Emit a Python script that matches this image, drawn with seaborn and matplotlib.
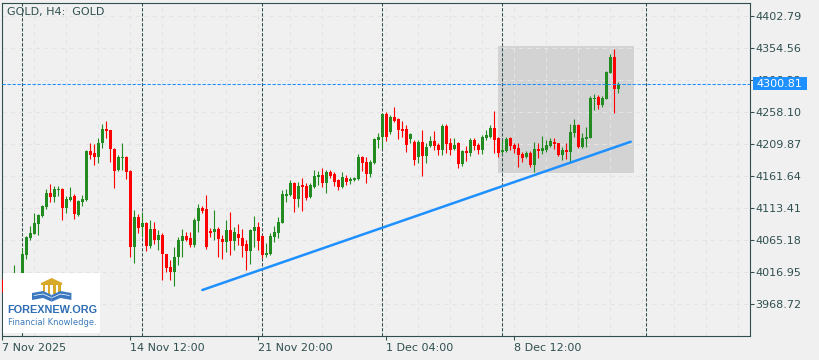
import numpy as np
import pandas as pd
import matplotlib
matplotlib.use("Agg")
import matplotlib.pyplot as plt
import matplotlib.transforms as mtransforms
from matplotlib.patches import Rectangle, Polygon
import seaborn as sns

# ---------------- data ----------------
opens = [
    4003.4, 3992.8, 3986.8, 4000.4, 4010.9, 4013.9, 4042.6, 4068.2, 4074.2, 4089.3,
    4101.3, 4114.9, 4136.0, 4130.0, 4141.3, 4142.0, 4113.4, 4125.5, 4131.5, 4102.9,
    4122.4, 4125.5, 4199.3, 4196.3, 4190.3, 4211.4, 4232.5, 4231.0, 4202.3, 4170.7,
    4189.5, 4190.3, 4169.2, 4054.6, 4099.8, 4084.8, 4090.8, 4056.1, 4081.8, 4065.2,
    4072.7, 4044.1, 4024.5, 4016.9, 4039.6, 4063.7, 4071.2, 4068.2, 4057.6, 4093.8,
    4113.4, 4111.9, 4078.7, 4077.2, 4081.8, 4066.7, 4062.2, 4080.2, 4063.7, 4074.2,
    4068.2, 4059.1, 4048.6, 4078.7, 4084.8, 4071.2, 4042.6, 4044.1, 4069.7, 4075.7,
    4090.8, 4131.5, 4133.0, 4151.1, 4127.0, 4148.1, 4146.6, 4130.0, 4145.1, 4160.1,
    4163.1, 4151.1, 4167.7, 4164.6, 4155.6, 4145.1, 4158.6, 4154.1, 4155.6, 4157.1,
    4190.3, 4182.7, 4164.6, 4181.2, 4215.9, 4220.4, 4255.1, 4228.0, 4250.6, 4247.5,
    4232.5, 4232.5, 4217.4, 4212.9, 4190.3, 4212.9, 4191.8, 4206.9, 4214.4, 4208.4,
    4200.8, 4237.0, 4211.4, 4202.3, 4211.4, 4179.7, 4199.3, 4196.3, 4215.9, 4208.4,
    4200.8, 4218.9, 4220.4, 4234.0, 4218.9, 4197.8, 4199.3, 4218.9, 4208.4, 4203.8,
    4194.8, 4190.3, 4196.3, 4178.2, 4202.3, 4199.3, 4200.8, 4206.9, 4212.9, 4211.4,
    4193.3, 4200.8, 4197.8, 4226.4, 4238.5, 4205.3, 4217.4, 4218.9, 4277.7, 4280.7,
    4268.6, 4277.7, 4316.9, 4341.0, 4292.8]

highs = [
    4006.4, 3998.9, 4004.9, 4027.5, 4014.7, 4053.1, 4071.2, 4086.3, 4105.9, 4104.4,
    4117.9, 4142.0, 4149.6, 4146.6, 4146.6, 4143.5, 4131.5, 4145.1, 4134.5, 4125.5,
    4133.0, 4200.8, 4211.4, 4209.9, 4218.9, 4240.0, 4244.5, 4231.0, 4203.8, 4193.3,
    4211.4, 4191.8, 4170.7, 4110.4, 4104.4, 4107.4, 4092.3, 4095.3, 4092.3, 4080.2,
    4075.7, 4044.1, 4035.0, 4054.6, 4069.7, 4081.8, 4077.2, 4077.2, 4098.3, 4119.4,
    4116.4, 4133.0, 4083.3, 4110.4, 4084.8, 4072.7, 4095.3, 4107.4, 4084.8, 4089.3,
    4081.8, 4065.2, 4081.8, 4101.3, 4092.3, 4072.7, 4060.7, 4075.7, 4086.3, 4099.8,
    4140.5, 4142.0, 4155.6, 4152.6, 4152.6, 4158.6, 4151.1, 4151.1, 4170.7, 4169.2,
    4173.7, 4170.7, 4170.7, 4167.7, 4157.1, 4167.7, 4163.1, 4160.1, 4160.1, 4194.8,
    4191.8, 4190.3, 4185.8, 4218.9, 4226.4, 4256.6, 4258.1, 4253.6, 4265.6, 4249.1,
    4244.5, 4238.5, 4226.4, 4215.9, 4215.9, 4231.0, 4211.4, 4221.9, 4229.5, 4211.4,
    4240.0, 4240.0, 4218.9, 4218.9, 4212.9, 4200.8, 4206.9, 4218.9, 4218.9, 4211.4,
    4223.4, 4231.0, 4238.5, 4259.6, 4220.4, 4215.9, 4220.4, 4220.4, 4211.4, 4211.4,
    4197.8, 4199.3, 4199.3, 4212.9, 4211.4, 4221.9, 4215.9, 4218.9, 4218.9, 4211.4,
    4205.3, 4211.4, 4240.0, 4247.5, 4240.0, 4226.4, 4235.5, 4282.2, 4285.2, 4283.7,
    4282.2, 4319.9, 4345.5, 4353.0, 4303.3]

lows = [
    3986.8, 3980.8, 3982.3, 3994.3, 4004.9, 4010.9, 4036.5, 4065.2, 4074.2, 4072.7,
    4099.8, 4111.9, 4122.4, 4122.4, 4131.5, 4095.3, 4105.9, 4124.0, 4096.8, 4101.3,
    4116.4, 4124.0, 4187.3, 4178.2, 4181.2, 4203.8, 4218.9, 4182.7, 4143.5, 4169.2,
    4170.7, 4157.1, 4039.6, 4030.5, 4075.7, 4069.7, 4048.6, 4053.1, 4059.1, 4050.1,
    4004.9, 4016.9, 4004.9, 3995.8, 4027.5, 4039.6, 4063.7, 4054.6, 4054.6, 4077.2,
    4105.9, 4052.0, 4069.7, 4065.2, 4039.6, 4036.5, 4047.1, 4042.6, 4050.1, 4057.6,
    4039.6, 4020.0, 4029.0, 4054.6, 4050.1, 4038.0, 4039.6, 4042.6, 4062.2, 4068.2,
    4090.8, 4122.4, 4131.5, 4107.4, 4114.9, 4108.9, 4125.5, 4128.5, 4143.5, 4148.1,
    4145.1, 4136.0, 4158.6, 4146.6, 4140.5, 4143.5, 4148.1, 4149.6, 4154.1, 4155.6,
    4169.2, 4151.1, 4160.1, 4179.7, 4203.8, 4203.8, 4214.4, 4224.9, 4243.0, 4217.4,
    4220.4, 4197.8, 4211.4, 4178.2, 4181.2, 4161.6, 4181.2, 4205.3, 4200.8, 4193.3,
    4193.3, 4196.3, 4193.3, 4200.8, 4173.7, 4176.7, 4184.2, 4191.8, 4200.8, 4194.8,
    4194.8, 4215.9, 4218.9, 4196.3, 4190.3, 4194.8, 4197.8, 4200.8, 4196.3, 4175.2,
    4182.7, 4188.8, 4175.2, 4167.7, 4188.8, 4194.8, 4197.8, 4205.3, 4202.3, 4191.8,
    4185.8, 4187.3, 4182.7, 4220.4, 4203.8, 4203.8, 4205.3, 4218.9, 4261.1, 4262.6,
    4265.6, 4277.7, 4316.9, 4256.6, 4286.7]

closes = [
    3991.3, 3986.8, 4000.4, 4012.4, 4013.9, 4044.1, 4069.7, 4075.7, 4090.8, 4102.9,
    4116.4, 4136.0, 4130.0, 4142.0, 4142.0, 4113.4, 4127.0, 4130.7, 4104.4, 4124.0,
    4127.0, 4199.3, 4193.3, 4190.3, 4211.4, 4232.5, 4229.5, 4202.3, 4169.2, 4190.3,
    4190.3, 4167.7, 4054.6, 4099.8, 4083.3, 4090.8, 4056.1, 4081.8, 4065.2, 4072.7,
    4044.1, 4023.0, 4016.9, 4039.6, 4065.2, 4071.2, 4065.2, 4057.6, 4095.3, 4113.4,
    4108.9, 4054.6, 4075.7, 4081.8, 4066.7, 4062.2, 4080.2, 4063.7, 4077.2, 4068.2,
    4056.1, 4048.6, 4080.2, 4084.8, 4063.7, 4042.6, 4045.6, 4071.2, 4077.2, 4092.3,
    4134.5, 4134.5, 4151.1, 4127.0, 4146.6, 4145.1, 4128.5, 4148.1, 4161.6, 4163.1,
    4151.1, 4167.7, 4161.6, 4152.6, 4145.1, 4160.1, 4152.6, 4157.1, 4157.9, 4190.3,
    4181.2, 4164.6, 4182.7, 4217.4, 4220.4, 4255.1, 4220.4, 4250.6, 4244.5, 4231.0,
    4229.5, 4208.4, 4224.9, 4185.8, 4212.9, 4191.8, 4205.3, 4214.4, 4206.9, 4200.8,
    4237.0, 4209.9, 4200.8, 4208.4, 4179.7, 4199.3, 4196.3, 4215.9, 4206.9, 4200.8,
    4220.4, 4223.4, 4234.0, 4215.9, 4196.3, 4200.8, 4217.4, 4206.9, 4202.3, 4193.3,
    4188.8, 4196.3, 4178.2, 4202.3, 4199.3, 4203.8, 4208.4, 4214.4, 4209.9, 4193.3,
    4200.8, 4197.8, 4228.0, 4238.5, 4205.3, 4218.9, 4220.4, 4279.2, 4279.2, 4268.6,
    4279.2, 4318.4, 4341.0, 4292.8, 4300.81]

chart_title = "GOLD, H4:  GOLD"
x_tick_pos = [0, 32, 64, 96, 128]
x_tick_labels = ["7 Nov 2025", "14 Nov 12:00", "21 Nov 20:00", "1 Dec 04:00", "8 Dec 12:00"]
y_ticks = [4402.79, 4354.56, 4306.33, 4258.10, 4209.87, 4161.64,
           4113.41, 4065.18, 4016.95, 3968.72]
separators = [5, 35, 65, 95, 125, 161]
trend_x = [50.0, 157.1]
trend_y = [3989.8, 4213.3]
zone_x = [123.9, 157.9]
zone_y = [4166.6, 4358.0]
last_price = 4300.81
logo_name = "FOREXNEW.ORG"
logo_tag = "Financial Knowledge."

assert len(opens) == len(highs) == len(lows) == len(closes) == 155

# ---------------- style ----------------
BG = "#f0f0f0"
DARK = "#2f4f4f"
UP = "#228b22"
DOWN = "#ff0000"
BLUE = "#1e90ff"

sns.set_theme(style="white", rc={"axes.facecolor": BG, "figure.facecolor": BG})
plt.rcParams["font.family"] = ["DejaVu Sans"]

df = pd.DataFrame({"idx": np.arange(len(opens)), "open": opens, "high": highs,
                   "low": lows, "close": closes})
df["up"] = df["close"] >= df["open"]
df["color"] = np.where(df["up"], UP, DOWN)
df["body_bottom"] = df[["open", "close"]].min(axis=1)
df["body_h"] = (df["close"] - df["open"]).abs().clip(lower=1.0)

fig = plt.figure(figsize=(8.2, 3.6), dpi=100, facecolor=BG)
ax = fig.add_axes([2 / 820, 24 / 360, 748 / 820, 333 / 360])
ax.set_facecolor(BG)
ax.set_xlim(-0.08, 186.92)
ax.set_ylim(3920.5, 4422.4)

# zone rectangle
ax.add_patch(Rectangle((zone_x[0], zone_y[0]), zone_x[1] - zone_x[0], zone_y[1] - zone_y[0],
                       facecolor="#d3d3d3", edgecolor="none", zorder=0.3))

# grid
ax.set_axisbelow("line")
ax.set_xticks(x_tick_pos)
ax.set_xticklabels(x_tick_labels)
ax.set_xticks(np.arange(0, 187, 8), minor=True)
ax.set_yticks(y_ticks)
ax.set_yticklabels([f"{v:.2f}" for v in y_ticks])
ax.grid(True, which="both", axis="x", color="#e4e4e4", lw=0.75, ls=(0, (4, 4)))
ax.grid(True, which="major", axis="y", color="#e4e4e4", lw=0.75, ls=(0, (4, 4)))

# period separators
for s in separators:
    ax.axvline(s, color=DARK, lw=0.75, ls=(0, (3.2, 1.6)), zorder=2)

# candles
ax.vlines(df["idx"], df["low"], df["high"], colors=df["color"], lw=0.8, zorder=3)
ax.bar(df["idx"], df["body_h"], bottom=df["body_bottom"], width=0.75,
       color=df["color"], linewidth=0, zorder=3.1)

# trend line
sns.lineplot(x=trend_x, y=trend_y, ax=ax, color=BLUE, lw=1.8, zorder=4)

# last price line
ax.axhline(last_price, color=BLUE, lw=0.75, ls=(0, (3.2, 1.6)), zorder=5)

# axes styling
ax.yaxis.tick_right()
ax.tick_params(axis="y", which="major", direction="out", length=3.2, width=0.75,
               color=DARK, labelsize=8, labelcolor=DARK, pad=0.8, right=True, left=False)
ax.tick_params(axis="x", which="major", direction="out", length=3, width=0.75,
               color=DARK, labelsize=8, labelcolor=DARK, pad=2.2, bottom=True)
ax.tick_params(axis="x", which="minor", length=0)
for lab in ax.get_xticklabels():
    lab.set_horizontalalignment("left")
for sp in ax.spines.values():
    sp.set_visible(True)
    sp.set_color(DARK)
    sp.set_linewidth(0.8)
ax.set_xlabel("")
ax.set_ylabel("")

# price label box
blend = mtransforms.blended_transform_factory(ax.transAxes, ax.transData)
ax.add_patch(Rectangle((1.0036, last_price - 10.1), 0.073, 20.2, transform=blend,
                       facecolor=BLUE, edgecolor="none", clip_on=False, zorder=6))
ax.text(1.0085, last_price, f"{last_price:.2f}", transform=blend, color="white",
        fontsize=8, va="center", ha="left", zorder=7, clip_on=False)

# title
ax.text(0.0067, 0.973, chart_title, transform=ax.transAxes, fontsize=8, color=DARK,
        va="center", ha="left", zorder=7)

# logo
lax = fig.add_axes([3 / 820, 27 / 360, 97 / 820, 60 / 360])
lax.set_xlim(0, 97)
lax.set_ylim(60, 0)
lax.set_facecolor("white")
lax.set_xticks([])
lax.set_yticks([])
for sp in lax.spines.values():
    sp.set_visible(False)
GOLDC = "#d8a82a"
BOOK = "#3b78c0"
lax.add_patch(Polygon([(37.5, 10.3), (48.7, 5.0), (60.0, 10.3)], closed=True, fc=GOLDC, ec="none"))
lax.add_patch(Rectangle((38.5, 10.3), 20.5, 1.6, fc=GOLDC, ec="none"))
for cx in [40.0, 45.0, 50.5, 55.5]:
    lax.add_patch(Rectangle((cx, 12.2), 2.2, 8.5, fc=GOLDC, ec="none"))
lax.add_patch(Polygon([(48.7, 22.0), (40, 18.0), (29, 20.0), (29, 27.0), (40, 25.0), (48.7, 28.7)],
                      closed=True, fc=BOOK, ec="none"))
lax.add_patch(Polygon([(48.7, 22.0), (57.4, 18.0), (68.4, 20.0), (68.4, 27.0), (57.4, 25.0), (48.7, 28.7)],
                      closed=True, fc=BOOK, ec="none"))
lax.plot([31, 40, 48], [22.5, 21, 24.5], color="white", lw=0.5)
lax.plot([66.4, 57.4, 49.4], [22.5, 21, 24.5], color="white", lw=0.5)
lax.text(49, 37.2, logo_name, fontsize=7.8, fontweight="bold", family=["Liberation Sans", "DejaVu Sans"],
         color="#2e6db4", ha="center", va="center")
lax.text(49.5, 49.3, logo_tag, fontsize=6, color="#3d7ab8", ha="center", va="center")

fig.savefig("out.png", dpi=100, facecolor=BG)
